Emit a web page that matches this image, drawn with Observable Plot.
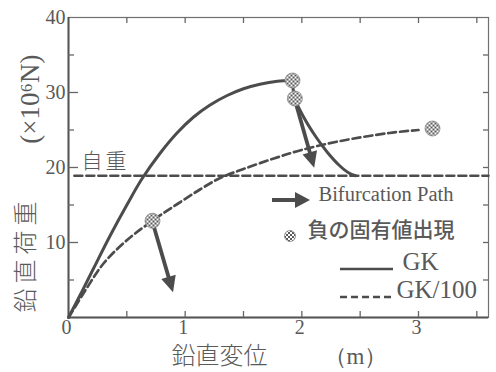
<!DOCTYPE html>
<html>
<head>
<meta charset="utf-8">
<script src="https://cdn.jsdelivr.net/npm/d3@7"></script>
<script src="https://cdn.jsdelivr.net/npm/@observablehq/plot@0.6"></script>
<style>
  html, body { margin: 0; padding: 0; background: #fff; }
  #chart { width: 496px; height: 372px; }
</style>
</head>
<body>
<div id="chart"></div>
<script>
// ---- data ----
const gkX = [0, 0.10, 0.21, 0.36, 0.50, 0.63, 0.79, 0.93, 1.07, 1.21, 1.36, 1.50, 1.64, 1.79, 1.92];
const gkY = [0, 3.0, 6.4, 11.0, 15.0, 18.5, 22.0, 24.6, 26.7, 28.3, 29.6, 30.5, 31.1, 31.5, 31.6];
const gkPostX = [1.92, 1.94, 2.02, 2.12, 2.22, 2.32, 2.40, 2.46];
const gkPostY = [31.6, 29.2, 26.6, 24.1, 22.0, 20.3, 19.3, 18.9];
const gk100X = [0, 0.04, 0.16, 0.30, 0.50, 0.72, 0.93, 1.13, 1.30, 1.50, 1.76, 1.99, 2.32, 2.75, 3.0];
const gk100Y = [0, 1.0, 4.0, 7.2, 10.3, 12.9, 15.1, 17.1, 18.6, 19.8, 21.2, 22.3, 23.5, 24.6, 25.0];
const selfWeight = 18.9;
const selfWeightX = [0.05, 3.6];
const eigenX = [0.72, 1.92, 1.94, 3.12];
const eigenY = [12.9, 31.6, 29.2, 25.2];
const arrowFromX = [0.72, 1.94];
const arrowFromY = [12.9, 29.2];
const arrowToX = [0.90, 2.11];
const arrowToY = [3.3, 19.9];
const xTicks = [0, 1, 2, 3];
const yTicks = [10, 20, 30, 40];
const xMinorTicks = [0.5, 1, 1.5, 2, 2.5, 3, 3.5];
const yMinorTicks = [5, 15, 25, 35];
const yMajorTicks = [10, 20, 30];
const legendLabels = ["Bifurcation Path", "負の固有値出現", "GK", "GK/100"];
const selfWeightLabel = "自重";
const yTitle = "鉛直荷重";
const yUnit = "(×10⁶N)";
const xTitle = "鉛直変位";
const xUnit = "（m）";

const INK = "#4c4c4c";
const TXT = "#595959";
const SERIF = "'Liberation Serif', 'DejaVu Serif', serif";
const CJK = "'Noto Sans CJK JP', sans-serif";

const gk = gkX.map((x, i) => ({x, y: gkY[i]}));
const gkPost = gkPostX.map((x, i) => ({x, y: gkPostY[i]}));
const gk100 = gk100X.map((x, i) => ({x, y: gk100Y[i]}));
const eigen = eigenX.map((x, i) => ({x, y: eigenY[i]}));
const sw = selfWeightX.map(x => ({x, y: selfWeight}));

function drawArrow(g, x1, y1, x2, y2, headLen, headHalf, sw) {
  const dx = x2 - x1, dy = y2 - y1, L = Math.hypot(dx, dy);
  const ux = dx / L, uy = dy / L;
  const bx = x2 - ux * headLen, by = y2 - uy * headLen;
  g.append("line").attr("x1", x1).attr("y1", y1).attr("x2", bx + ux).attr("y2", by + uy)
    .attr("stroke", INK).attr("stroke-width", sw);
  g.append("polygon").attr("points", [
    [x2, y2], [bx - uy * headHalf, by + ux * headHalf], [bx + uy * headHalf, by - ux * headHalf]
  ].map(p => p.join(",")).join(" ")).attr("fill", INK);
}

function arrowsMark(index, scales) {
  const g = d3.create("svg:g");
  arrowFromX.forEach((x, i) => {
    drawArrow(g, scales.x(x), scales.y(arrowFromY[i]), scales.x(arrowToX[i]), scales.y(arrowToY[i]), 16, 7.5, 3.8);
  });
  return g.node();
}

function legendMark(index, scales, values, dims) {
  const rx = dims.width - dims.marginRight;
  const by = dims.height - dims.marginBottom;
  const g = d3.create("svg:g");
  drawArrow(g, rx - 216, by - 117, rx - 178, by - 117, 15, 8, 4);
  g.append("circle").attr("cx", rx - 198).attr("cy", by - 81).attr("r", 5.5)
    .attr("fill", "url(#chk)").attr("stroke", "#888").attr("stroke-width", 0.8);
  g.append("line").attr("x1", rx - 148).attr("x2", rx - 95).attr("y1", by - 48).attr("y2", by - 48)
    .attr("stroke", INK).attr("stroke-width", 2.4);
  g.append("line").attr("x1", rx - 148).attr("x2", rx - 95).attr("y1", by - 20).attr("y2", by - 20)
    .attr("stroke", INK).attr("stroke-width", 2.4).attr("stroke-dasharray", "7,4");
  return g.node();
}

const innerH = 372 - 17 - 55;
const innerW = 496 - 68 - 8;

const chart = Plot.plot({
  width: 496,
  height: 372,
  marginLeft: 68,
  marginRight: 8,
  marginTop: 17,
  marginBottom: 55,
  style: {background: "#fff", color: TXT},
  x: {domain: [0, 3.6], axis: null},
  y: {domain: [0, 40], axis: null},
  marks: [
    Plot.frame({stroke: "#707070", strokeWidth: 1.2}),
    Plot.ruleX([0], {stroke: "#555", strokeWidth: 2}),
    Plot.ruleY([0], {stroke: "#555", strokeWidth: 2}),
    // inward ticks
    Plot.tickX(xMinorTicks, {x: d => d, insetTop: innerH - 6, stroke: "#666", strokeWidth: 1.3}),
    Plot.tickX(xMinorTicks, {x: d => d, insetBottom: innerH - 6, stroke: "#666", strokeWidth: 1.3}),
    Plot.tickY(yMinorTicks, {y: d => d, insetRight: innerW - 6, stroke: "#666", strokeWidth: 1.3}),
    Plot.tickY(yMajorTicks, {y: d => d, insetRight: innerW - 10, stroke: "#666", strokeWidth: 1.3}),
    Plot.tickY(yMinorTicks.concat(yMajorTicks), {y: d => d, insetLeft: innerW - 5, stroke: "#666", strokeWidth: 1.3}),
    Plot.axisX({ticks: xTicks, label: null, tickSize: 0, tickPadding: 2, fontSize: 20, fontFamily: SERIF, tickFormat: d => String(d), dx: -2}),
    Plot.axisY({ticks: yTicks, label: null, tickSize: 0, tickPadding: 3, fontSize: 20, fontFamily: SERIF, tickFormat: d => String(d)}),
    // self weight
    Plot.line(sw, {x: "x", y: "y", stroke: INK, strokeWidth: 2.5, strokeDasharray: "8,4"}),
    Plot.text([selfWeightLabel], {x: () => 0, y: () => selfWeight, text: d => d, textAnchor: "start", dx: 13, dy: -14, fontSize: 21, fontFamily: CJK, fontWeight: 300, fill: TXT}),
    // curves
    Plot.line(gk100, {x: "x", y: "y", stroke: INK, strokeWidth: 2.7, strokeDasharray: "8,4", curve: "catmull-rom"}),
    Plot.line(gk, {x: "x", y: "y", stroke: INK, strokeWidth: 3, curve: "catmull-rom"}),
    Plot.line(gkPost, {x: "x", y: "y", stroke: INK, strokeWidth: 3, curve: "catmull-rom"}),
    arrowsMark,
    Plot.dot(eigen, {x: "x", y: "y", r: 7.5, fill: "#fff", stroke: "#888", strokeWidth: 0.8}),
    // axis titles
    Plot.text([yTitle], {frameAnchor: "bottom-left", text: d => d, rotate: -90, textAnchor: "start", dx: -35, dy: -5, fontSize: 24, fontFamily: CJK, fontWeight: 300, fill: TXT}),
    Plot.text([yUnit], {frameAnchor: "top-left", text: d => d, rotate: -90, textAnchor: "end", dx: -49, dy: 37, fontSize: 27, fontFamily: SERIF, fill: TXT}),
    Plot.text([xTitle], {frameAnchor: "bottom", text: d => d, dx: -59, dy: 46, fontSize: 24, fontFamily: CJK, fontWeight: 300, fill: TXT}),
    Plot.text([xUnit], {frameAnchor: "bottom", text: d => d, dx: 77, dy: 46, fontSize: 23, fontFamily: SERIF, fill: TXT}),
    // legend
    legendMark,
    Plot.text([legendLabels[0]], {frameAnchor: "bottom-right", text: d => d, textAnchor: "start", dx: -170, dy: -117, fontSize: 20.5, fontFamily: SERIF, fill: TXT}),
    Plot.text([legendLabels[1]], {frameAnchor: "bottom-right", text: d => d, textAnchor: "start", dx: -181, dy: -81, fontSize: 21, fontFamily: CJK, fontWeight: 500, fill: TXT}),
    Plot.text([legendLabels[2]], {frameAnchor: "bottom-right", text: d => d, textAnchor: "start", dx: -86, dy: -48, fontSize: 25, fontFamily: SERIF, fill: TXT}),
    Plot.text([legendLabels[3]], {frameAnchor: "bottom-right", text: d => d, textAnchor: "start", dx: -92, dy: -20, fontSize: 25, fontFamily: SERIF, fill: TXT})
  ]
});

// checkered pattern for the "negative eigenvalue" markers
const ns = "http://www.w3.org/2000/svg";
const defs = document.createElementNS(ns, "defs");
defs.innerHTML = '<pattern id="chk" width="4" height="4" patternUnits="userSpaceOnUse">' +
  '<rect width="4" height="4" fill="#fff"/><rect width="2" height="2" fill="#5a5a5a"/>' +
  '<rect x="2" y="2" width="2" height="2" fill="#5a5a5a"/></pattern>';
chart.insertBefore(defs, chart.firstChild);
chart.querySelectorAll("circle").forEach(c => c.setAttribute("fill", "url(#chk)"));
// wider spacing for the vertical y title and the self-weight label
chart.querySelectorAll("text").forEach(t => {
  if (t.textContent === yTitle) t.setAttribute("letter-spacing", "5");
  if (t.textContent === selfWeightLabel) t.setAttribute("letter-spacing", "3");
});

document.getElementById("chart").appendChild(chart);
</script>
</body>
</html>
